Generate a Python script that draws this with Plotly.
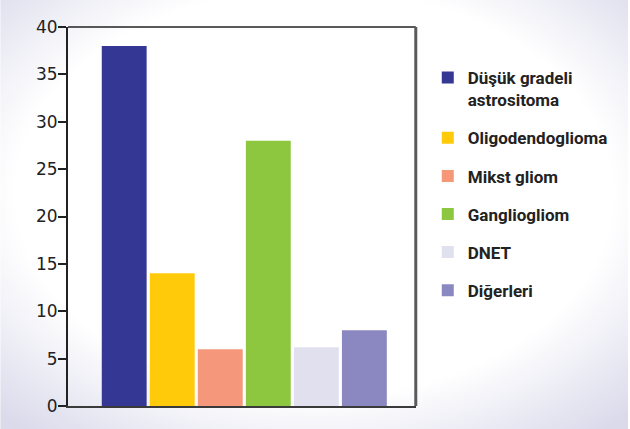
import base64
import plotly.graph_objects as go

categories = ["Düşük gradeli<br>astrositoma", "Oligodendoglioma", "Mikst gliom",
              "Gangliogliom", "DNET", "Diğerleri"]
values = [38, 14, 6, 28, 6.2, 8]
colors = ["#343894", "#FFCA0A", "#F4977A", "#8DC63F", "#E0E0EE", "#8B87C1"]
y_ticks = [0, 5, 10, 15, 20, 25, 30, 35, 40]

W, H = 630, 429
ML, MR, MT, MB = 68, 213, 27, 23
PW, PH = W - ML - MR, H - MT - MB

svg = (
    '<svg xmlns="http://www.w3.org/2000/svg" width="630" height="429" viewBox="0 0 630 429">'
    '<defs><radialGradient id="g" cx="0.5" cy="0.45" r="0.72">'
    '<stop offset="0" stop-color="#ffffff"/>'
    '<stop offset="0.66" stop-color="#ffffff"/>'
    '<stop offset="0.85" stop-color="#eaeaf4"/>'
    '<stop offset="1" stop-color="#dadaeb"/>'
    '</radialGradient></defs>'
    '<rect x="0" y="0" width="630" height="429" fill="url(#g)"/></svg>'
)
bg_src = "data:image/svg+xml;base64," + base64.b64encode(svg.encode()).decode()

fig = go.Figure()
for i, (name, v, c) in enumerate(zip(categories, values, colors)):
    fig.add_trace(go.Bar(
        x=[i], y=[v], name=name, width=0.934,
        marker=dict(color=c, line=dict(width=0)),
        legendgroup=f"g{i}", hoverinfo="y",
    ))

fig.update_layout(
    width=W, height=H,
    margin=dict(l=ML, r=MR, t=MT, b=MB),
    paper_bgcolor="white", plot_bgcolor="white",
    barmode="overlay",
    showlegend=True,
    legend=dict(
        xref="container", yref="container",
        x=0.679, y=0.86, xanchor="left", yanchor="top",
        font=dict(family="Roboto, sans-serif", size=17, color="#222222", weight="bold"),
        valign="top", tracegroupgap=13, traceorder="grouped",
        bgcolor="rgba(0,0,0,0)", maxheight=400,
    ),
    xaxis=dict(
        range=[-1.17, 6.07], showticklabels=False, ticks="", showgrid=False,
        zeroline=False, showline=True, linecolor="#3a3a3a", linewidth=2,
        fixedrange=True,
    ),
    yaxis=dict(
        range=[0, 40], tickvals=y_ticks, ticks="outside", ticklen=8, tickwidth=1.5,
        tickcolor="#222222", showgrid=False, zeroline=False, showline=True,
        linecolor="#222222", linewidth=2, ticklabelstandoff=-3,
        tickfont=dict(family="DejaVu Sans", size=17, color="#222222"),
        fixedrange=True,
    ),
    images=[dict(
        source=bg_src, xref="paper", yref="paper",
        x=-ML / PW, y=1 + MT / PH, sizex=W / PW, sizey=H / PH,
        xanchor="left", yanchor="top", sizing="stretch", layer="below",
    )],
    shapes=[
        dict(type="line", xref="paper", yref="paper", x0=0, x1=1, y0=1, y1=1,
             line=dict(color="#222222", width=1.5)),
        dict(type="line", xref="paper", yref="paper", x0=1, x1=1, y0=0, y1=1,
             line=dict(color="#5a5a5a", width=3)),
    ],
)

fig.write_html("out.html")
